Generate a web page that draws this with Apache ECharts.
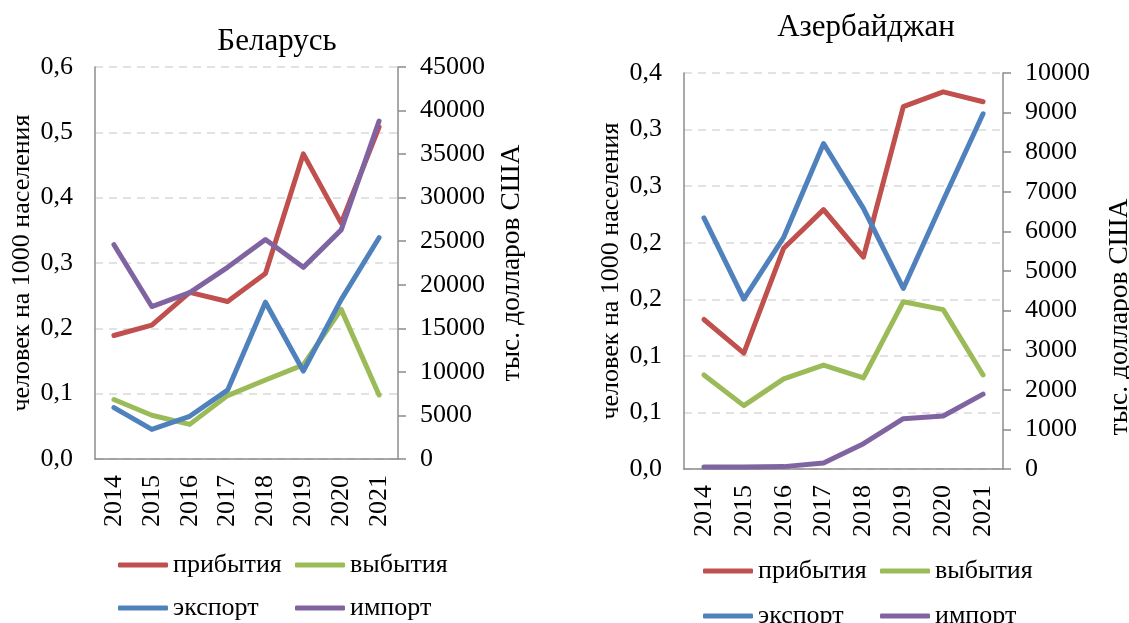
<!DOCTYPE html>
<html>
<head>
<meta charset="utf-8">
<script src="https://cdn.jsdelivr.net/npm/echarts@6/dist/echarts.min.js"></script>
<style>
  html, body { margin: 0; padding: 0; background: #fff; }
  #chart { width: 1129px; height: 623px; }
</style>
</head>
<body>
<div id="chart"></div>
<script>
const years = ['2014', '2015', '2016', '2017', '2018', '2019', '2020', '2021']
const seriesNames = ['прибытия', 'выбытия', 'экспорт', 'импорт']

// Беларусь
const byArrivals = [0.189, 0.205, 0.255, 0.241, 0.284, 0.467, 0.361, 0.508]
const byDepartures = [0.091, 0.067, 0.053, 0.097, 0.121, 0.144, 0.229, 0.098]
const byExport = [5900, 3400, 4900, 7900, 18000, 10100, 18300, 25400]
const byImport = [24600, 17500, 19100, 22000, 25200, 22000, 26300, 38800]

// Азербайджан
const azArrivals = [0.151, 0.117, 0.223, 0.262, 0.214, 0.366, 0.381, 0.371]
const azDepartures = [0.095, 0.064, 0.091, 0.105, 0.092, 0.169, 0.161, 0.095]
const azExport = [6340, 4290, 5850, 8220, 6580, 4560, 6780, 8970]
const azImport = [50, 50, 60, 150, 640, 1270, 1340, 1890]

const colors = ['#c0504d', '#9bbb59', '#4f81bd', '#8064a2']
const font = 'Liberation Serif'
const axisColor = '#8c8c8c'

const chart = echarts.init(document.getElementById('chart'))

function comma(v) {
  return v.toFixed(1).replace('.', ',')
}

function xAxis(gridIndex) {
  return {
    type: 'category',
    gridIndex: gridIndex,
    data: years,
    boundaryGap: true,
    axisTick: { show: false },
    axisLine: { lineStyle: { color: axisColor, width: 1.5 } },
    axisLabel: {
      rotate: 90,
      margin: 16,
      color: '#000',
      fontFamily: font,
      fontSize: 26
    }
  }
}

function leftAxis(gridIndex, max, interval) {
  return {
    type: 'value',
    gridIndex: gridIndex,
    min: 0,
    max: max,
    interval: interval,
    name: 'человек на 1000 населения',
    nameLocation: 'middle',
    nameRotate: 90,
    nameGap: 60,
    nameTextStyle: { color: '#000', fontFamily: font, fontSize: 26 },
    axisLine: { show: true, lineStyle: { color: axisColor, width: 1.5 } },
    axisTick: { show: false },
    splitLine: { show: true, lineStyle: { color: '#d9d9d9', width: 1.5, type: [8, 6] } },
    axisLabel: {
      margin: 22,
      color: '#000',
      fontFamily: font,
      fontSize: 26,
      formatter: comma
    }
  }
}

function rightAxis(gridIndex, max, interval, nameGap, padding) {
  return {
    type: 'value',
    gridIndex: gridIndex,
    position: 'right',
    min: 0,
    max: max,
    interval: interval,
    name: 'тыс. долларов США',
    nameLocation: 'middle',
    nameRotate: 90,
    nameGap: nameGap,
    nameTextStyle: { color: '#000', fontFamily: font, fontSize: 27.5, padding: padding },
    axisLine: { show: true, lineStyle: { color: axisColor, width: 1.5 } },
    axisTick: { show: true, inside: false, length: 8, lineStyle: { color: axisColor, width: 1.5 } },
    splitLine: { show: false },
    axisLabel: {
      margin: 22,
      color: '#000',
      fontFamily: font,
      fontSize: 26,
      formatter: (v) => String(v)
    }
  }
}

function line(name, data, xIdx, yIdx, color) {
  return {
    name: name,
    type: 'line',
    xAxisIndex: xIdx,
    yAxisIndex: yIdx,
    data: data,
    symbol: 'none',
    color: color,
    lineStyle: { width: 5, color: color, cap: 'round', join: 'round' },
    emphasis: { disabled: true }
  }
}

function legend(left, top, lineHeight) {
  return {
    left: left,
    top: top,
    width: 360,
    orient: 'horizontal',
    data: seriesNames,
    icon: 'roundRect',
    itemWidth: 50,
    itemHeight: 5,
    itemGap: 5,
    selectedMode: false,
    textStyle: {
      color: '#000',
      fontFamily: font,
      fontSize: 26,
      width: 117,
      lineHeight: lineHeight
    }
  }
}

function title(text, x, y) {
  return {
    type: 'text',
    x: x,
    y: y,
    style: {
      text: text,
      font: '31px "Liberation Serif"',
      fill: '#000',
      align: 'center',
      verticalAlign: 'middle'
    }
  }
}

chart.setOption({
  animation: false,
  backgroundColor: '#fff',
  textStyle: { fontFamily: font },
  grid: [
    { left: 95, top: 67, width: 303, height: 392, outerBoundsMode: 'none' },
    { left: 684, top: 73, width: 319, height: 396, outerBoundsMode: 'none' }
  ],
  graphic: [
    title('Беларусь', 277, 42),
    title('Азербайджан', 866, 28)
  ],
  legend: [
    legend(113, 541, 38),
    legend(698, 546, 40)
  ],
  xAxis: [xAxis(0), xAxis(1)],
  yAxis: [
    leftAxis(0, 0.6, 0.1),
    rightAxis(0, 45000, 5000, 100, 0),
    leftAxis(1, 0.4, 0.4 / 7),
    rightAxis(1, 10000, 1000, 103, [0, 92, 0, 0])
  ],
  series: [
    line('прибытия', byArrivals, 0, 0, colors[0]),
    line('выбытия', byDepartures, 0, 0, colors[1]),
    line('экспорт', byExport, 0, 1, colors[2]),
    line('импорт', byImport, 0, 1, colors[3]),
    line('прибытия', azArrivals, 1, 2, colors[0]),
    line('выбытия', azDepartures, 1, 2, colors[1]),
    line('экспорт', azExport, 1, 3, colors[2]),
    line('импорт', azImport, 1, 3, colors[3])
  ]
})
</script>
</body>
</html>
